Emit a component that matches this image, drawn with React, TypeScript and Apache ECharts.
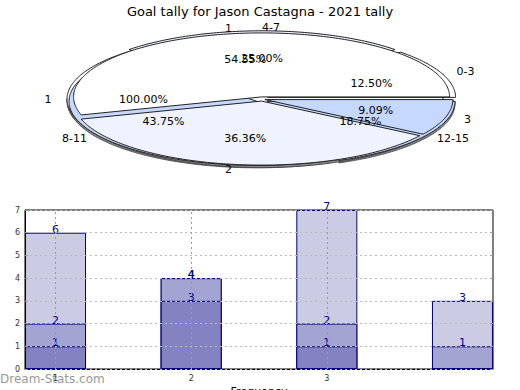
import React, { useEffect, useRef } from 'react';
import * as echarts from 'echarts';

// ---------- data ----------
const TITLE = 'Goal tally for Jason Castagna - 2021 tally';

const pieCLabels = ['1'];
const pieCValues = [1];
const pieBLabels = ['0-3', '4-7', '8-11', '12-15'];
const pieBValues = [2, 4, 7, 3];
const pieALabels = ['1', '2', '3'];
const pieAValues = [6, 4, 1];

const barX = [1, 2, 3, 4];
const barLight = [6, 4, 7, 3];
const barMedium = [2, 4, 2, 1];
const barDark = [1, 3, 1, null];
const xTickLabels = [1, 2, 3];
const X_NAME = 'Frequency';
const WATERMARK = 'Dream-Stats.com';

// ---------- layout / style ----------
const FONT = '"DejaVu Sans", sans-serif';
const PIE = { cx: 262, cy: 99, rx: 188, ry: 64, thick: 2.5 };
const WHITE = '#ffffff';
const PALE = '#eef3ff';
const LBLUE = '#c6d8ff';

function pieSeries(name: string, labels: string[], values: number[], colors: string[], explode: number) {
  const total = values.reduce((a, b) => a + b, 0);
  return {
    type: 'custom',
    name,
    coordinateSystem: 'none',
    silent: true,
    data: values.map((v, i) => ({ value: v, name: labels[i] })),
    renderItem: (params: any, api: any) => {
      const i = params.dataIndex;
      const v = api.value(0);
      let before = 0;
      for (let k = 0; k < i; k++) before += values[k];
      const a0 = (before / total) * 360;
      const a1 = a0 + (v / total) * 360;
      const midDeg = (a0 + a1) / 2;
      const mid = (midDeg * Math.PI) / 180;
      const full = a1 - a0 >= 359.99;
      const ox = explode * Math.cos(mid);
      const oy = -explode * Math.sin(mid) * 0.7;
      const ptAt = (ccx: number, ccy: number, deg: number, k = 1) => {
        const t = (deg * Math.PI) / 180;
        return [ccx + k * PIE.rx * Math.cos(t), ccy - k * PIE.ry * Math.sin(t)];
      };
      const cx = PIE.cx + ox;
      const cy = PIE.cy + oy;
      const pt = (deg: number, k = 1) => ptAt(cx, cy, deg, k);
      const arc: number[][] = [];
      const steps = Math.max(2, Math.ceil(a1 - a0));
      for (let s = 0; s <= steps; s++) arc.push(pt(a0 + ((a1 - a0) * s) / steps));
      const children: any[] = [];
      // 3D side on lower half
      const s0 = Math.max(a0, 180);
      const s1 = Math.min(a1, 360);
      if (s1 > s0) {
        const top: number[][] = [];
        const n = Math.max(2, Math.ceil(s1 - s0));
        for (let s = 0; s <= n; s++) top.push(pt(s0 + ((s1 - s0) * s) / n));
        const bottom = top.map((p) => [p[0], p[1] + PIE.thick]).reverse();
        children.push({
          type: 'polygon',
          z2: 0,
          shape: { points: top.concat(bottom) },
          style: { fill: '#888', stroke: '#333', lineWidth: 0.7 },
        });
      }
      const pts = full ? arc : [[cx, cy]].concat(arc);
      children.push({
        type: 'polygon',
        z2: 1,
        shape: { points: pts },
        style: { fill: colors[i % colors.length], stroke: '#222', lineWidth: 1 },
      });
      const pp = ptAt(PIE.cx, PIE.cy, midDeg, 0.63);
      children.push({
        type: 'text',
        z2: 100,
        style: {
          text: ((v / total) * 100).toFixed(2) + '%',
          x: pp[0],
          y: pp[1],
          fill: '#000',
          font: '11px ' + FONT,
          align: 'center',
          verticalAlign: 'middle',
        },
      });
      const lp = ptAt(PIE.cx, PIE.cy, midDeg, 1.12);
      children.push({
        type: 'text',
        z2: 100,
        style: {
          text: labels[i],
          x: lp[0],
          y: lp[1],
          fill: '#000',
          font: '11px ' + FONT,
          align: Math.cos(mid) >= -1e-9 ? 'left' : 'right',
          verticalAlign: 'middle',
        },
      });
      return { type: 'group', children };
    },
  };
}

function barSeries(name: string, values: (number | null)[], color: string, extra: any = {}) {
  return {
    type: 'bar',
    name,
    xAxisIndex: 0,
    yAxisIndex: 0,
    barWidth: 61,
    barGap: '-100%',
    data: barX.map((x, i) => [x, values[i]]),
    itemStyle: { color, borderColor: '#000080', borderWidth: 1 },
    label: {
      show: true,
      position: 'top',
      distance: -2,
      color: '#000099',
      fontSize: 11,
      fontFamily: FONT,
    },
    ...extra,
  };
}

export default function App() {
  const ref = useRef<HTMLDivElement>(null);
  useEffect(() => {
    document.body.style.margin = '0';
    const chart = echarts.init(ref.current!, undefined, { renderer: 'svg' });
    chart.setOption({
      animation: false,
      backgroundColor: '#fff',
      title: {
        text: TITLE,
        left: 'center',
        top: 0,
        textStyle: { fontFamily: FONT, fontSize: 13, fontWeight: 'normal', color: '#000' },
      },
      grid: [
        {
          left: 25,
          right: 27,
          top: 210,
          bottom: 21,
          outerBoundsMode: 'none',
          containLabel: false,
          show: true,
          borderColor: '#000',
          borderWidth: 1,
          backgroundColor: 'transparent',
        },
      ],
      xAxis: [
        {
          type: 'value',
          gridIndex: 0,
          min: 0.775,
          max: 4.225,
          name: X_NAME,
          nameLocation: 'middle',
          nameGap: 17,
          nameTextStyle: { fontFamily: FONT, fontSize: 11, color: '#000' },
          axisLine: { show: true, lineStyle: { color: '#000' } },
          axisTick: { show: true, inside: true, length: 3, customValues: xTickLabels, lineStyle: { color: '#999' } },
          axisLabel: { customValues: xTickLabels, fontSize: 8, fontFamily: FONT, color: '#333', margin: 5 },
          splitLine: { show: false },
        },
      ],
      yAxis: [
        {
          type: 'value',
          gridIndex: 0,
          min: 0,
          max: 7,
          interval: 1,
          z: 5,
          axisLine: { show: true, lineStyle: { color: '#000' } },
          axisTick: { show: true, inside: true, length: 3, lineStyle: { color: '#999' } },
          axisLabel: { fontSize: 8, fontFamily: FONT, color: '#333', margin: 5 },
          splitLine: { show: true, lineStyle: { type: [2, 3], color: '#bbb', width: 1 } },
        },
        {
          type: 'value',
          gridIndex: 0,
          position: 'right',
          min: 0,
          max: 7,
          interval: 1,
          z: 5,
          axisLine: { show: false },
          axisTick: { show: true, inside: true, length: 3, lineStyle: { color: '#999' } },
          axisLabel: { show: false },
          splitLine: { show: false },
        },
      ],
      series: [
        pieSeries('pieC', pieCLabels, pieCValues, [WHITE], 7),
        pieSeries('pieB', pieBLabels, pieBValues, [WHITE, PALE, LBLUE, LBLUE], 6),
        pieSeries('pieA', pieALabels, pieAValues, [WHITE, PALE, LBLUE], 3),
        barSeries('light', barLight, '#cbcbe4', {
          markLine: {
            silent: true,
            symbol: 'none',
            z: 5,
            label: { show: false },
            lineStyle: { type: [2, 3], color: '#999', width: 1 },
            data: xTickLabels.map((x) => ({ xAxis: x })),
          },
        }),
        barSeries('medium', barMedium, '#a4a4d2'),
        barSeries('dark', barDark, '#8482c0'),
      ],
      graphic: [
        {
          type: 'text',
          left: 0,
          top: 373,
          style: { text: WATERMARK, fill: '#999', font: '12px ' + FONT },
        },
      ],
    });
    return () => chart.dispose();
  }, []);
  return <div ref={ref} style={{ width: 520, height: 390 }} />;
}
